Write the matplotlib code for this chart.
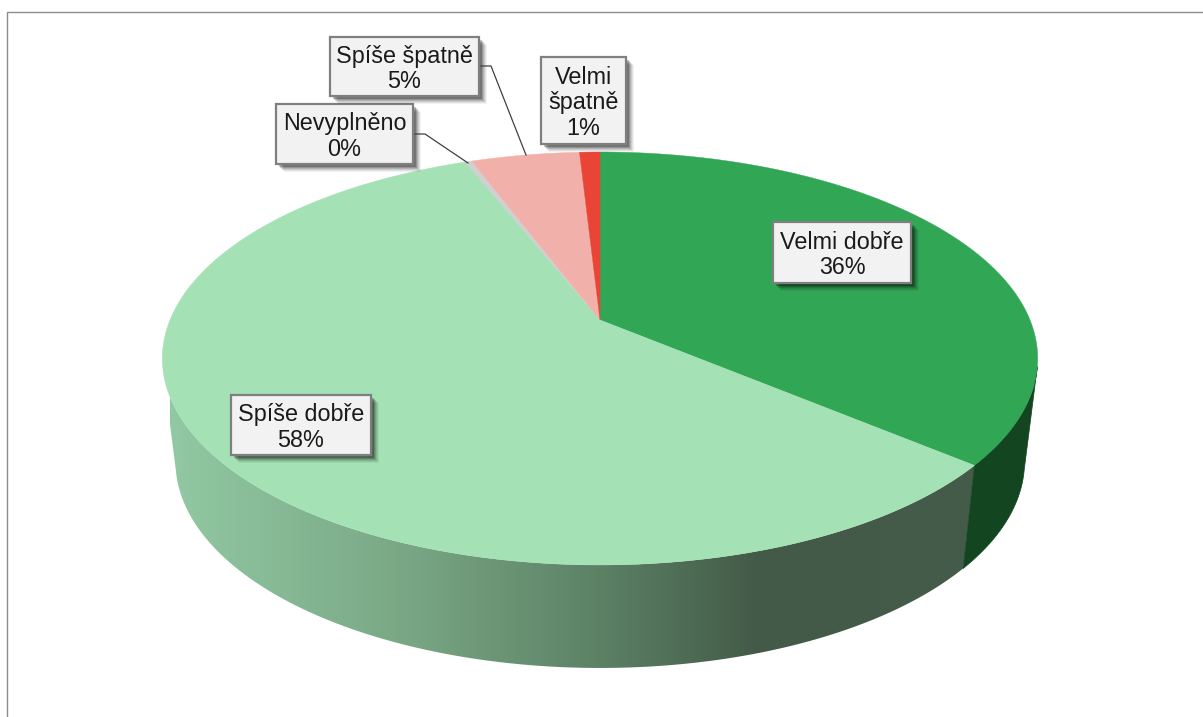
import numpy as np
import matplotlib
matplotlib.use('Agg')
import matplotlib.pyplot as plt
from matplotlib.colors import LinearSegmentedColormap
from matplotlib.patches import Polygon, Rectangle

# data, clockwise from 12 o'clock
categories = ['Velmi dobře', 'Spíše dobře', 'Nevyplněno', 'Spíše špatně', 'Velmi\nšpatně']
values = [36.1, 57.9, 0.3, 4.8, 0.9]

top_colors = ['#31a655', '#a4e1b5', '#d0d0d0', '#f2b0aa', '#e94435']

# label boxes in pixels: left, top, right, bottom
boxes = [(773, 222, 911, 283), (231, 395, 371, 455), (276, 104, 413, 164),
         (330, 37, 479, 96), (541, 57, 626, 144)]

plt.rcParams['font.family'] = ['Liberation Sans', 'DejaVu Sans']

fig = plt.figure(figsize=(12.03, 7.17), dpi=100)
ax = fig.add_axes([0, 0, 1, 1])
ax.set_xlim(0, 1203)
ax.set_ylim(717, 0)
ax.axis('off')

# perspective of the disc
cx, cy = 600, 320
R, S, k = 430, 199.3, 0.1864
drop, shrink = 103, 0.03


def project(t, z=0.0):
    # t in degrees clockwise from the top, z=1 is the underside
    t = np.radians(t)
    u, v = np.sin(t), -np.cos(t)
    w = 1 - k * v
    return cx + (1 - shrink * z) * R * u / w, cy + S * v / w + drop * z


def wall_poly(t0, t1):
    ts = np.linspace(t0, t1, 200)
    xt, yt = project(ts)
    xb, yb = project(ts[::-1], 1.0)
    return np.column_stack([np.r_[xt, xb], np.r_[yt, yb]])


bounds = np.r_[0, np.cumsum(values)] * 3.6
left_edge, right_edge = 257, 103

# chart frame
ax.plot([7, 7, 1203], [717, 12, 12], color='#8c8c8c', lw=1.0)

# side walls
side = LinearSegmentedColormap.from_list('side', [
    (0.0, '#92c8a3'), (0.277, '#7aa886'), (0.518, '#5c8165'), (0.711, '#425a47'), (1.0, '#455c4a')])
wall = Polygon(wall_poly(bounds[1], left_edge), closed=True, fc='none', ec='none')
ax.add_patch(wall)
im = ax.imshow(np.linspace(0, 1, 512).reshape(1, -1), extent=(170, 1000, 717, 0), cmap=side,
               aspect='auto', vmin=0, vmax=1)
im.set_clip_path(wall)
ax.add_patch(Polygon(wall_poly(right_edge, bounds[1]), closed=True, fc='#134520', ec='#134520', lw=0.5))
ax.set_xlim(0, 1203)
ax.set_ylim(717, 0)

# top face
for i, c in enumerate(top_colors):
    ts = np.linspace(bounds[i], bounds[i + 1], 300)
    x, y = project(ts)
    ax.add_patch(Polygon(np.column_stack([np.r_[cx, x], np.r_[cy, y]]), closed=True, fc=c, ec=c, lw=0.3))

# leader lines
ax.plot([481, 491, 526], [66, 66, 155], color='#404040', lw=0.9)
ax.plot([415, 425, 468], [134, 134, 163], color='#404040', lw=0.9)

# labels
for name, val, (x0, y0, x1, y1) in zip(categories, values, boxes):
    for off, a in [(8, 0.05), (7, 0.07), (6, 0.09), (5, 0.12), (4, 0.16), (3, 0.22)]:
        ax.add_patch(Rectangle((x0 + off, y0 + off), x1 - x0, y1 - y0, fc='black', ec='none', alpha=a))
    ax.add_patch(Rectangle((x0, y0), x1 - x0, y1 - y0, fc='#f2f2f2', ec='#7f7f7f', lw=1.6))
    ax.text((x0 + x1) / 2, (y0 + y1) / 2 + 2.5, f'{name}\n{round(val)}%', ha='center', va='center',
            fontsize=16.8, color='#1a1a1a', linespacing=1.13)

fig.savefig('out.png', dpi=100, facecolor='white')
